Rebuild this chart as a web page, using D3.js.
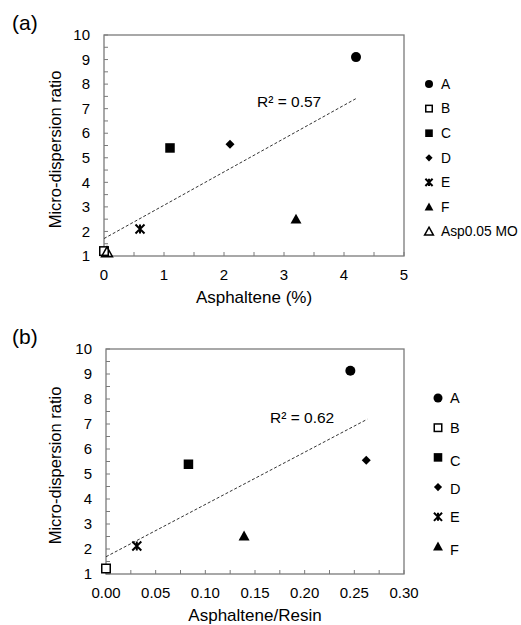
<!DOCTYPE html>
<html>
<head>
<meta charset="utf-8">
<script src="https://cdn.jsdelivr.net/npm/d3@7"></script>
<style>
  body { margin: 0; background: #fff; }
  text { font-family: "Liberation Sans", Arial, sans-serif; fill: #000; }
</style>
</head>
<body>
<div id="canvas"></div>
<script>
"use strict";

/* ===============================
   Data */
let seriesNames = ["A", "B", "C", "D", "E", "F", "Asp0.05 MO"];
let seriesShapes = ["circle", "openSquare", "square", "diamond", "star", "triangle", "openTriangle"];

// panel (a): asphaltene % vs micro-dispersion ratio
let asphaltenePct = [4.2, 0.0, 1.1, 2.1, 0.6, 3.2, 0.05];
let ratioA = [9.1, 1.2, 5.4, 5.55, 2.1, 2.5, 1.15];
let trendAx = [0, 4.2];
let trendAy = [1.71, 7.41];

// panel (b): asphaltene/resin vs micro-dispersion ratio
let asphResin = [0.246, 0.0, 0.083, 0.262, 0.031, 0.139];
let ratioB = [9.13, 1.22, 5.39, 5.55, 2.12, 2.52];
let trendBx = [0, 0.263];
let trendBy = [1.69, 7.19];

let yTicks = [1, 2, 3, 4, 5, 6, 7, 8, 9, 10];
let xTicksA = [0, 1, 2, 3, 4, 5];
let xTicksB = [0, 0.05, 0.10, 0.15, 0.20, 0.25, 0.30];

/* ===============================
   Canvas */
let svgWidth = 521;
let svgHeight = 625;

let svg = d3.select("#canvas")
  .append("svg")
  .attr("width", svgWidth)
  .attr("height", svgHeight);

let frameColor = "#7a7a7a";

/* marker drawing: one function so plot and legend share shapes */
function drawMarker(g, shape, cx, cy, s) {
  if (shape === "circle") {
    g.append("circle").attr("cx", cx).attr("cy", cy).attr("r", s * 0.5).attr("fill", "#000");
  } else if (shape === "square" || shape === "openSquare") {
    let open = shape === "openSquare";
    let w = open ? s - 1.5 : s * 0.95;
    g.append("rect")
      .attr("x", cx - w / 2).attr("y", cy - w / 2)
      .attr("width", w).attr("height", w)
      .attr("fill", open ? "#fff" : "#000")
      .attr("stroke", "#000")
      .attr("stroke-width", open ? 1.5 : 0);
  } else if (shape === "diamond") {
    let h = s * 0.45;
    g.append("path")
      .attr("d", "M" + cx + "," + (cy - h) + "L" + (cx + h) + "," + cy + "L" + cx + "," + (cy + h) + "L" + (cx - h) + "," + cy + "Z")
      .attr("fill", "#000");
  } else if (shape === "star") {
    let h = s * 0.45;
    g.append("path")
      .attr("d", "M" + (cx - h) + "," + (cy - h) + "L" + (cx + h) + "," + (cy + h) +
        "M" + (cx + h) + "," + (cy - h) + "L" + (cx - h) + "," + (cy + h) +
        "M" + cx + "," + (cy - h) + "L" + cx + "," + (cy + h))
      .attr("stroke", "#000")
      .attr("stroke-width", 2)
      .attr("fill", "none");
  } else if (shape === "triangle" || shape === "openTriangle") {
    let open = shape === "openTriangle";
    let h = s * 0.55;
    g.append("path")
      .attr("d", "M" + cx + "," + (cy - h) + "L" + (cx + h) + "," + (cy + h * 0.8) + "L" + (cx - h) + "," + (cy + h * 0.8) + "Z")
      .attr("fill", open ? "none" : "#000")
      .attr("stroke", "#000")
      .attr("stroke-width", open ? 1.5 : 0);
  }
}

/* one panel: frame, inward ticks, labels, points, trendline, legend */
function drawPanel(cfg) {
  let g = svg.append("g");

  let xScale = d3.scaleLinear().domain(cfg.xDomain).range([cfg.left, cfg.right]);
  let yScale = d3.scaleLinear().domain([1, 10]).range([cfg.bottom, cfg.top]);

  // minor + major ticks, pointing inward (Excel style)
  let xMinor = d3.range(0, cfg.xTicks.length * 2 - 1).map(function (i) {
    return cfg.xDomain[0] + i * (cfg.xDomain[1] - cfg.xDomain[0]) / ((cfg.xTicks.length - 1) * 2);
  });
  g.selectAll("line.xtick")
    .data(xMinor)
    .join("line")
    .attr("x1", function (d) { return xScale(d); })
    .attr("x2", function (d) { return xScale(d); })
    .attr("y1", cfg.bottom)
    .attr("y2", cfg.bottom - 4)
    .attr("stroke", frameColor);

  let yMinor = d3.range(1, 10.01, 0.5);
  g.selectAll("line.ytick")
    .data(yMinor)
    .join("line")
    .attr("x1", cfg.left)
    .attr("x2", cfg.left + 4)
    .attr("y1", function (d) { return yScale(d); })
    .attr("y2", function (d) { return yScale(d); })
    .attr("stroke", frameColor);

  // frame
  g.append("rect")
    .attr("x", cfg.left).attr("y", cfg.top)
    .attr("width", cfg.right - cfg.left)
    .attr("height", cfg.bottom - cfg.top)
    .attr("fill", "none")
    .attr("stroke", frameColor)
    .attr("stroke-width", 1.3);

  // tick labels
  g.selectAll("text.ylab")
    .data(yTicks)
    .join("text")
    .attr("x", cfg.left - 14)
    .attr("y", function (d) { return yScale(d); })
    .attr("dy", "0.35em")
    .attr("text-anchor", "end")
    .attr("font-size", 15)
    .text(function (d) { return d; });

  g.selectAll("text.xlab")
    .data(cfg.xTicks)
    .join("text")
    .attr("x", function (d) { return xScale(d); })
    .attr("y", cfg.bottom + 19)
    .attr("dy", "0.35em")
    .attr("text-anchor", "middle")
    .attr("font-size", 15)
    .text(function (d) { return cfg.xFormat(d); });

  // axis titles
  g.append("text")
    .attr("x", (cfg.left + cfg.right) / 2)
    .attr("y", cfg.bottom + 41)
    .attr("dy", "0.35em")
    .attr("text-anchor", "middle")
    .attr("font-size", 17)
    .text(cfg.xTitle);

  g.append("text")
    .attr("transform", "translate(" + 55 + "," + ((cfg.top + cfg.bottom) / 2 + 4) + ") rotate(-90)")
    .attr("text-anchor", "middle")
    .attr("dy", "0.35em")
    .attr("font-size", 16.5)
    .text("Micro-dispersion ratio");

  // panel letter
  g.append("text")
    .attr("x", 12)
    .attr("y", cfg.top - 12)
    .attr("dy", "0.35em")
    .attr("font-size", 21)
    .text(cfg.letter);

  // trendline
  g.append("line")
    .attr("x1", xScale(cfg.trendX[0])).attr("y1", yScale(cfg.trendY[0]))
    .attr("x2", xScale(cfg.trendX[1])).attr("y2", yScale(cfg.trendY[1]))
    .attr("stroke", "#333")
    .attr("stroke-width", 1)
    .attr("stroke-dasharray", "3,2");

  g.append("text")
    .attr("x", cfg.r2x)
    .attr("y", cfg.r2y)
    .attr("dy", "0.35em")
    .attr("font-size", 15.5)
    .text(cfg.r2);

  // points
  for (let i = 0; i < cfg.xs.length; i = i + 1) {
    drawMarker(g, seriesShapes[i], xScale(cfg.xs[i]), yScale(cfg.ys[i]), cfg.markSize);
  }

  // legend
  for (let i = 0; i < cfg.xs.length; i = i + 1) {
    let ly = cfg.legendTop + i * cfg.legendStep;
    drawMarker(g, seriesShapes[i], cfg.legendX, ly, cfg.legendMark);
    g.append("text")
      .attr("x", cfg.legendX + 12)
      .attr("y", ly + cfg.legendShift[i])
      .attr("dy", "0.35em")
      .attr("font-size", cfg.legendFont)
      .text(seriesNames[i]);
  }
}

drawPanel({
  letter: "(a)",
  left: 104, right: 404, top: 35, bottom: 256,
  xDomain: [0, 5],
  xTicks: xTicksA,
  xFormat: d3.format("d"),
  xTitle: "Asphaltene (%)",
  xs: asphaltenePct, ys: ratioA,
  trendX: trendAx, trendY: trendAy,
  r2: "R² = 0.57", r2x: 257, r2y: 102,
  markSize: 10,
  legendX: 429, legendTop: 84, legendStep: 24.6, legendMark: 8, legendFont: 13.8,
  legendShift: [0, 0, 0, 0, 0, 0, 0]
});

drawPanel({
  letter: "(b)",
  left: 106, right: 404, top: 349, bottom: 574,
  xDomain: [0, 0.3],
  xTicks: xTicksB,
  xFormat: d3.format(".2f"),
  xTitle: "Asphaltene/Resin",
  xs: asphResin, ys: ratioB,
  trendX: trendBx, trendY: trendBy,
  r2: "R² = 0.62", r2x: 270, r2y: 418,
  markSize: 10,
  legendX: 438, legendTop: 398, legendStep: 29.7, legendMark: 9, legendFont: 14.5,
  legendShift: [0, 0, 4, 2, 0, 3]
});
</script>
</body>
</html>
